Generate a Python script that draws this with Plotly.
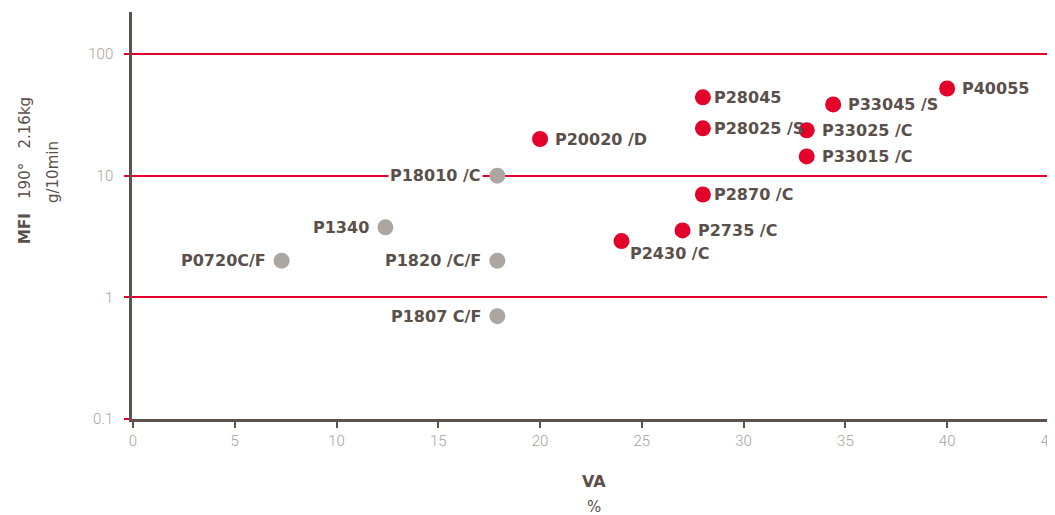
import plotly.graph_objects as go
import math

# Data
red_names = ["P28045", "P28025 /S", "P33045 /S", "P40055", "P33025 /C", "P33015 /C",
             "P20020 /D", "P2870 /C", "P2735 /C", "P2430 /C"]
red_va = [28, 28, 34.4, 40, 33.1, 33.1, 20, 28, 27, 24]
red_mfi = [44, 24.5, 38.5, 52, 23.6, 14.4, 20, 7.0, 3.55, 2.9]

gray_names = ["P18010 /C", "P1340", "P0720C/F", "P1820 /C/F", "P1807 C/F"]
gray_va = [17.9, 12.4, 7.3, 17.9, 17.9]
gray_mfi = [10, 3.76, 2.0, 2.0, 0.70]

x_ticks = [0, 5, 10, 15, 20, 25, 30, 35, 40, 45]
y_ticks = [0.1, 1, 10, 100]
y_tick_text = ["0.1", "1", "10", "100"]

RED = "#e3002b"
GRAY = "#aba69f"
DARK = "#5b4f4a"
TICKC = "#a8a29c"
LABEL_FONT = dict(family="DejaVu Sans", size=16, color=DARK, weight="bold")

fig = go.Figure()
fig.add_trace(go.Scatter(x=red_va, y=red_mfi, mode="markers",
                         marker=dict(color=RED, size=16, line=dict(width=0)),
                         hoverinfo="text", text=red_names, showlegend=False))
fig.add_trace(go.Scatter(x=gray_va, y=gray_mfi, mode="markers",
                         marker=dict(color=GRAY, size=16, line=dict(width=0)),
                         hoverinfo="text", text=gray_names, showlegend=False))

annotations = []
for n, x, y in zip(red_names, red_va, red_mfi):
    if n == "P2430 /C":
        annotations.append(dict(x=x, y=math.log10(y), xref="x", yref="y", text=n,
                                showarrow=False, xanchor="left", yanchor="middle",
                                xshift=7, yshift=-12, font=LABEL_FONT))
    else:
        annotations.append(dict(x=x, y=math.log10(y), xref="x", yref="y", text=n,
                                showarrow=False, xanchor="left", yanchor="middle",
                                xshift=9 if x == 28 else 13, font=LABEL_FONT))
for n, x, y in zip(gray_names, gray_va, gray_mfi):
    annotations.append(dict(x=x, y=math.log10(y), xref="x", yref="y", text=n,
                            showarrow=False, xanchor="right", yanchor="middle",
                            xshift=-14, font=LABEL_FONT, bgcolor="white", borderpad=1))

# Axis titles
annotations.append(dict(x=0.5, y=0, xref="paper", yref="paper", yshift=-62,
                        text="<b>VA</b>", showarrow=False, xanchor="center", yanchor="middle",
                        font=dict(family="DejaVu Sans", size=16, color=DARK)))
annotations.append(dict(x=0.5, y=0, xref="paper", yref="paper", yshift=-88,
                        text="%", showarrow=False, xanchor="center", yanchor="middle",
                        font=dict(family="DejaVu Sans", size=15, color=DARK)))
annotations.append(dict(x=0, y=1, xref="paper", yref="paper", xshift=-107, yshift=-159,
                        text="<b>MFI</b>   190°   2.16kg", textangle=-90, showarrow=False,
                        xanchor="center", yanchor="middle",
                        font=dict(family="DejaVu Sans", size=15, color=DARK)))
annotations.append(dict(x=0, y=1, xref="paper", yref="paper", xshift=-79, yshift=-160,
                        text="g/10min", textangle=-90, showarrow=False,
                        xanchor="center", yanchor="middle",
                        font=dict(family="DejaVu Sans", size=15, color=DARK)))

# The page body has an 8px margin, so the figure is sized to fit the 1055x515 window.
fig.update_layout(
    width=1047, height=507,
    margin=dict(l=124, r=0, t=4, b=96, autoexpand=False),
    paper_bgcolor="white", plot_bgcolor="white",
    annotations=annotations,
    xaxis=dict(range=[-0.05, 45.3], tickvals=x_ticks, showgrid=False, zeroline=False,
               automargin=False, ticklabeloverflow="allow",
               showline=True, linecolor="#5e524c", linewidth=2.5,
               ticks="outside", ticklen=6, tickwidth=2, tickcolor="#5e524c",
               tickfont=dict(family="Roboto", size=15, color=TICKC, weight=300),
               ticklabelstandoff=0),
    yaxis=dict(type="log", range=[-1, 2.345], tickvals=y_ticks, ticktext=y_tick_text,
               showgrid=True, gridcolor=RED, gridwidth=1.5, zeroline=False,
               automargin=False,
               showline=True, linecolor="#5e524c", linewidth=2.5,
               ticks="outside", ticklen=5, tickwidth=1.5, tickcolor=RED,
               tickfont=dict(family="Roboto", size=15, color=TICKC, weight=300),
               ticklabelstandoff=8),
)

fig.write_html("out.html")
